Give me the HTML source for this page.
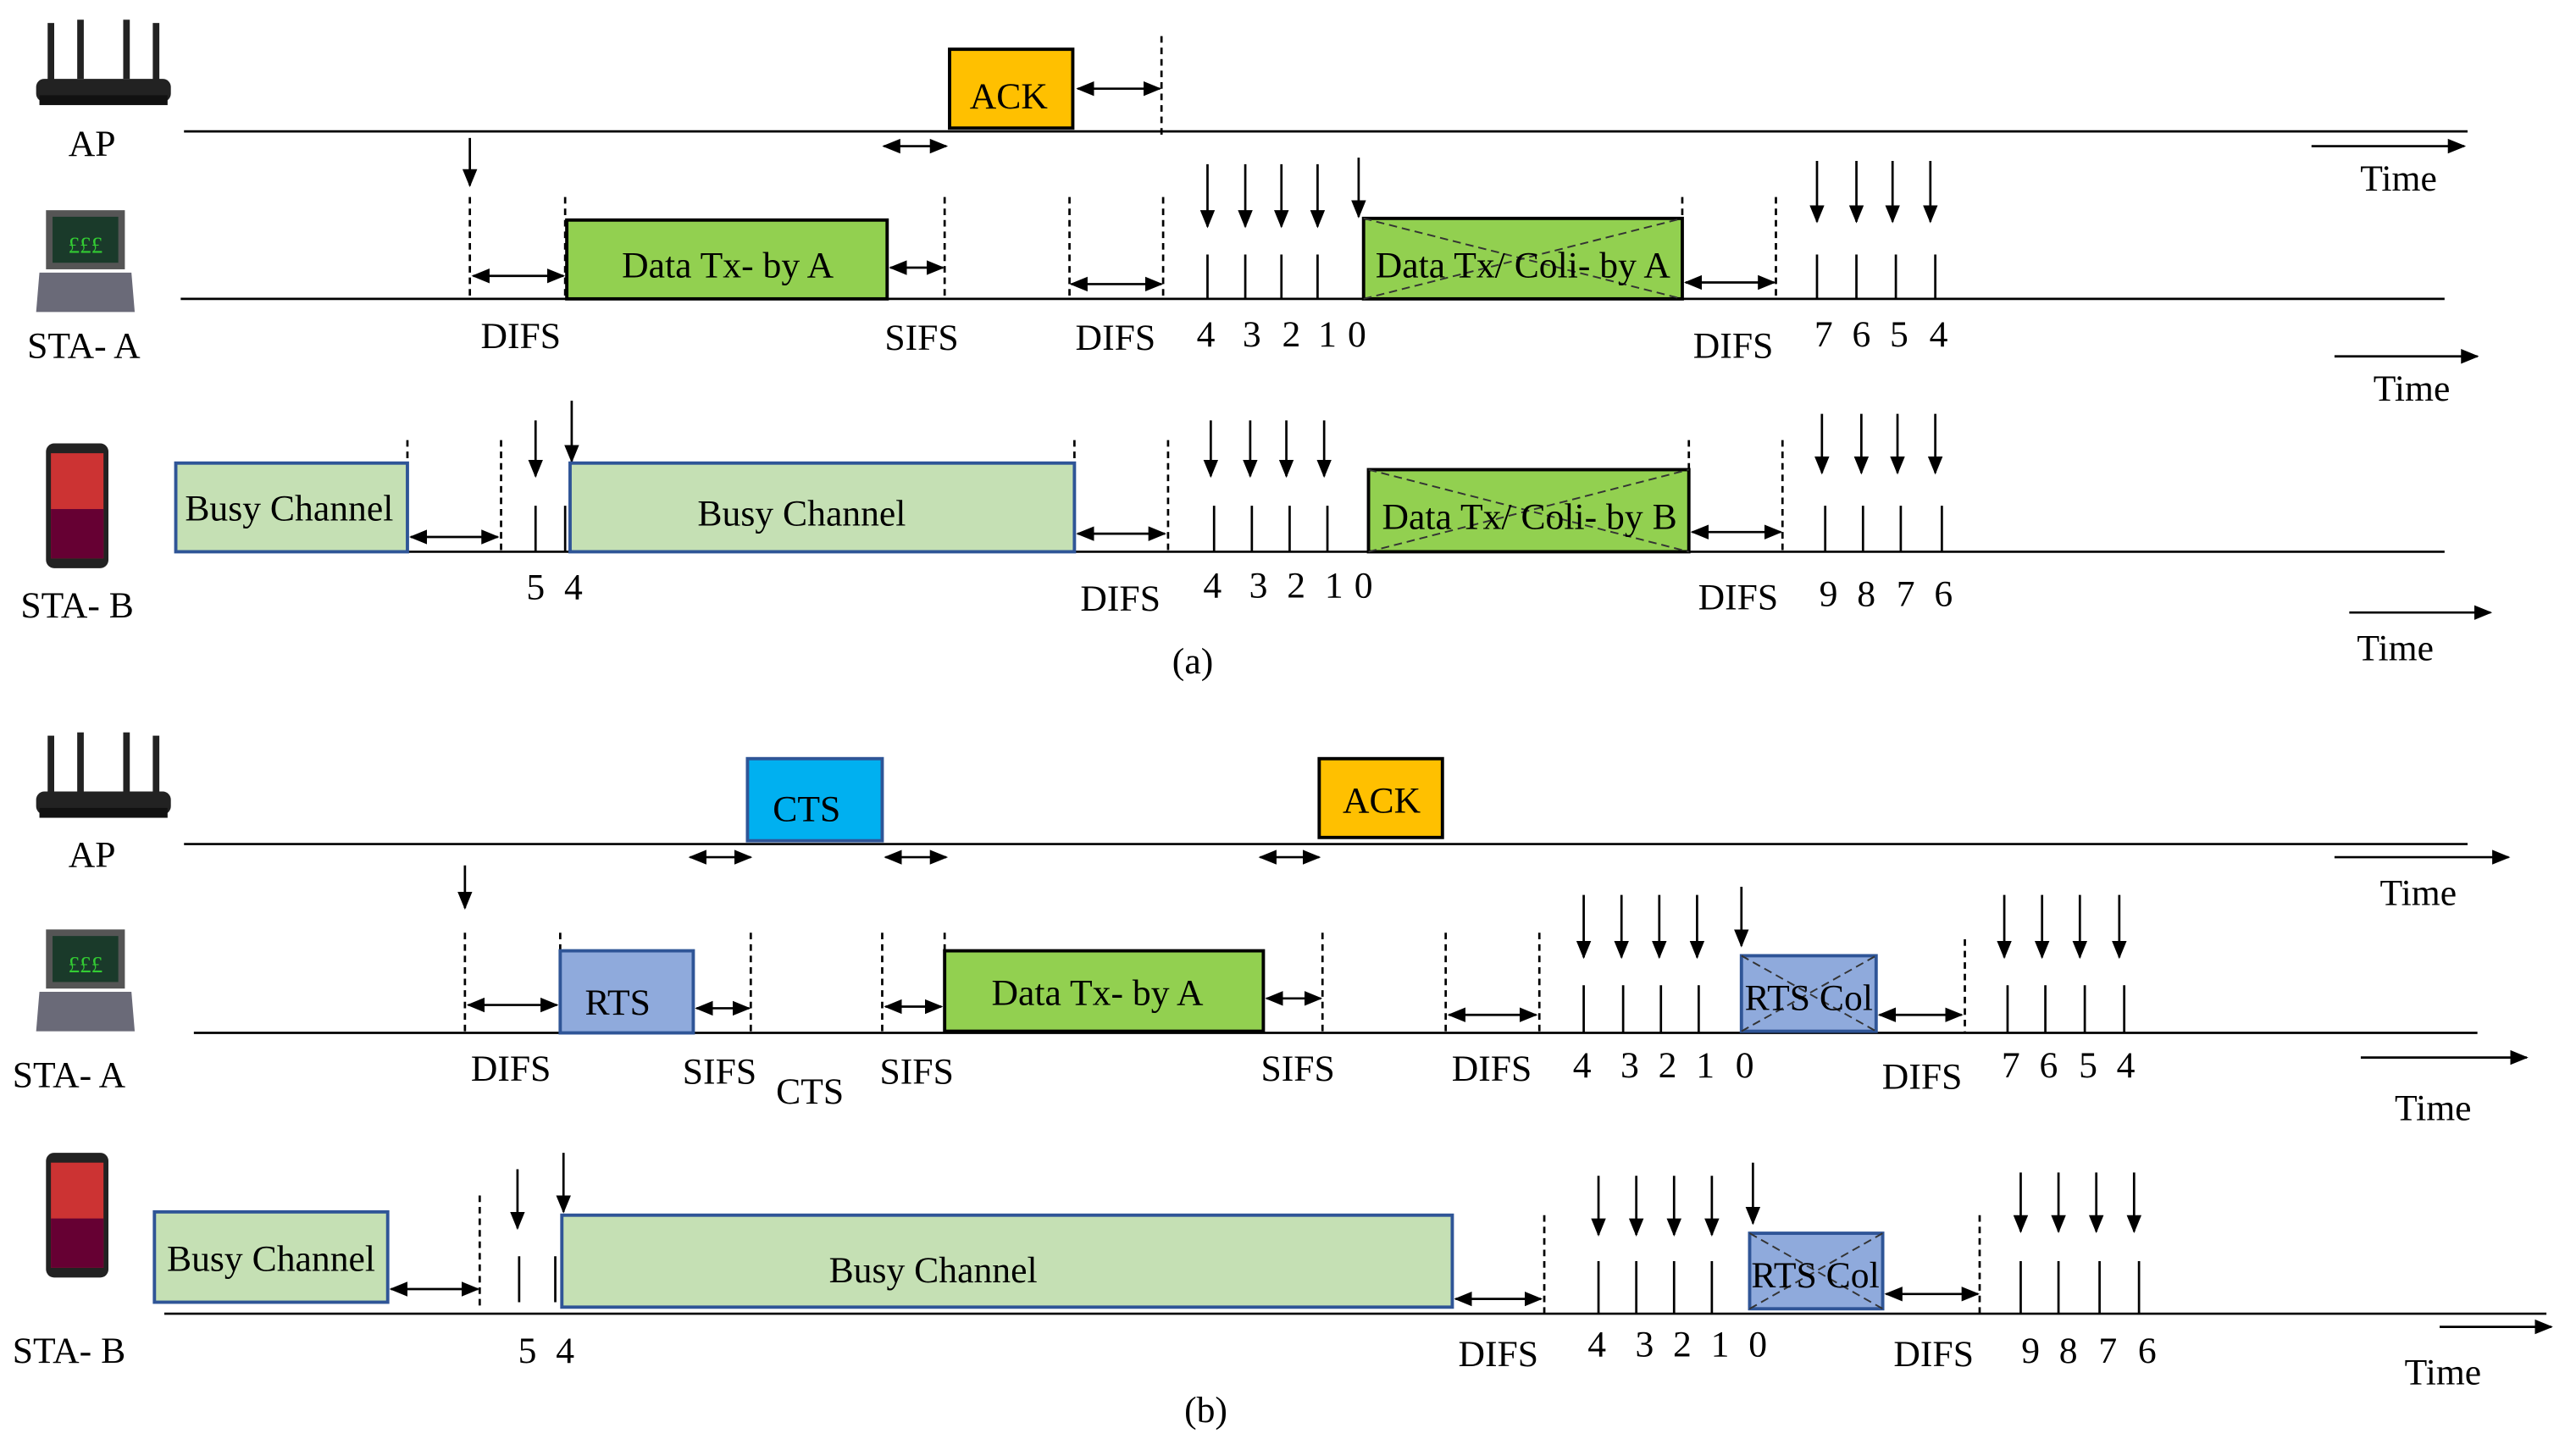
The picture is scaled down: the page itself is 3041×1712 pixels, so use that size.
<!DOCTYPE html>
<html><head><meta charset="utf-8"><style>html,body{margin:0;padding:0;background:#fff}svg{display:block}text{font-family:"Liberation Serif",serif;font-size:22.5px;fill:#000}</style></head><body>
<svg width="3041" height="1712" viewBox="0 0 1568 883" preserveAspectRatio="none" xmlns="http://www.w3.org/2000/svg">
<defs>
<marker id="a" markerWidth="11" markerHeight="10" refX="10" refY="5" orient="auto-start-reverse" markerUnits="userSpaceOnUse"><path d="M0,0.5 L11,5 L0,9.5 z" fill="#000"/></marker>
<g id="router"><rect x="22" y="48" width="82" height="14" rx="5" fill="#222"/><rect x="24" y="58" width="78" height="6" fill="#111"/><rect x="29" y="14" width="4" height="36" fill="#222"/><rect x="47" y="12" width="4" height="36" fill="#222"/><rect x="75" y="12" width="4" height="36" fill="#222"/><rect x="93" y="14" width="4" height="36" fill="#222"/></g>
<g id="laptop"><rect x="28" y="128" width="48" height="36" fill="#555"/><rect x="32" y="132" width="40" height="28" fill="#1a3a2a"/><text x="52" y="154" text-anchor="middle" style="font-size:14px;fill:#3c3">£££</text><path d="M24,166 L80,166 L82,190 L22,190 z" fill="#6a6a78"/></g>
<g id="phone"><rect x="28" y="270" width="38" height="76" rx="5" fill="#222"/><rect x="31" y="276" width="32" height="64" fill="#c33"/><rect x="31" y="310" width="32" height="30" fill="#603"/></g>
</defs>
<g stroke="#000" stroke-width="1.4" fill="none">
<!-- (a) -->
<line x1="112" y1="80" x2="1502" y2="80"/>
<line x1="110" y1="182" x2="1488" y2="182"/>
<line x1="110" y1="336" x2="1488" y2="336"/>
<g stroke-dasharray="4,3"><line x1="707" y1="22" x2="707" y2="82"/><line x1="286" y1="120" x2="286" y2="182"/><line x1="344" y1="120" x2="344" y2="182"/><line x1="575" y1="120" x2="575" y2="182"/><line x1="651" y1="120" x2="651" y2="182"/><line x1="708" y1="120" x2="708" y2="182"/><line x1="1024" y1="120" x2="1024" y2="182"/><line x1="1081" y1="120" x2="1081" y2="182"/>
<line x1="248" y1="268" x2="248" y2="336"/><line x1="305" y1="268" x2="305" y2="336"/><line x1="654" y1="268" x2="654" y2="336"/><line x1="711" y1="268" x2="711" y2="336"/><line x1="1028" y1="268" x2="1028" y2="336"/><line x1="1085" y1="268" x2="1085" y2="336"/></g>
<g marker-start="url(#a)" marker-end="url(#a)"><line x1="656" y1="54" x2="706" y2="54"/><line x1="538" y1="89" x2="576" y2="89"/><line x1="288" y1="168" x2="343" y2="168"/><line x1="542" y1="163" x2="574" y2="163"/><line x1="652" y1="173" x2="707" y2="173"/><line x1="1026" y1="172" x2="1080" y2="172"/><line x1="250" y1="327" x2="303" y2="327"/><line x1="656" y1="325" x2="709" y2="325"/><line x1="1030" y1="324" x2="1084" y2="324"/></g>
<g marker-end="url(#a)"><line x1="1407" y1="89" x2="1500" y2="89"/><line x1="1421" y1="217" x2="1508" y2="217"/><line x1="1430" y1="373" x2="1516" y2="373"/>
<line x1="286" y1="84" x2="286" y2="113"/><line x1="735" y1="100" x2="735" y2="138"/><line x1="758" y1="100" x2="758" y2="138"/><line x1="780" y1="100" x2="780" y2="138"/><line x1="802" y1="100" x2="802" y2="138"/><line x1="827" y1="96" x2="827" y2="132"/><line x1="1106" y1="98" x2="1106" y2="135"/><line x1="1130" y1="98" x2="1130" y2="135"/><line x1="1152" y1="98" x2="1152" y2="135"/><line x1="1175" y1="98" x2="1175" y2="135"/>
<line x1="326" y1="256" x2="326" y2="290"/><line x1="348" y1="244" x2="348" y2="281"/><line x1="737" y1="256" x2="737" y2="290"/><line x1="761" y1="256" x2="761" y2="290"/><line x1="783" y1="256" x2="783" y2="290"/><line x1="806" y1="256" x2="806" y2="290"/><line x1="1109" y1="252" x2="1109" y2="288"/><line x1="1133" y1="252" x2="1133" y2="288"/><line x1="1155" y1="252" x2="1155" y2="288"/><line x1="1178" y1="252" x2="1178" y2="288"/></g>
<path d="M735,155V182M758,155V182M780,155V182M802,155V182M1106,155V182M1130,155V182M1154,155V182M1178,155V182M326,308V336M344,308V336M739,308V336M762,308V336M785,308V336M808,308V336M1111,308V336M1134,308V336M1157,308V336M1182,308V336"/>
<!-- (b) -->
<line x1="112" y1="514" x2="1502" y2="514"/>
<line x1="118" y1="629" x2="1508" y2="629"/>
<line x1="100" y1="800" x2="1550" y2="800"/>
<g stroke-dasharray="4,3"><line x1="283" y1="568" x2="283" y2="629"/><line x1="341" y1="568" x2="341" y2="629"/><line x1="457" y1="568" x2="457" y2="629"/><line x1="537" y1="568" x2="537" y2="629"/><line x1="575" y1="568" x2="575" y2="629"/><line x1="805" y1="568" x2="805" y2="629"/><line x1="880" y1="568" x2="880" y2="629"/><line x1="937" y1="568" x2="937" y2="629"/><line x1="1196" y1="572" x2="1196" y2="629"/>
<line x1="292" y1="728" x2="292" y2="796"/><line x1="940" y1="740" x2="940" y2="800"/><line x1="1205" y1="740" x2="1205" y2="800"/></g>
<g marker-start="url(#a)" marker-end="url(#a)"><line x1="420" y1="522" x2="457" y2="522"/><line x1="539" y1="522" x2="576" y2="522"/><line x1="767" y1="522" x2="803" y2="522"/><line x1="285" y1="612" x2="339" y2="612"/><line x1="424" y1="614" x2="456" y2="614"/><line x1="539" y1="613" x2="573" y2="613"/><line x1="771" y1="608" x2="804" y2="608"/><line x1="882" y1="618" x2="935" y2="618"/><line x1="1144" y1="618" x2="1194" y2="618"/><line x1="238" y1="785" x2="291" y2="785"/><line x1="886" y1="791" x2="938" y2="791"/><line x1="1148" y1="788" x2="1204" y2="788"/></g>
<g marker-end="url(#a)"><line x1="1421" y1="522" x2="1527" y2="522"/><line x1="1437" y1="644" x2="1538" y2="644"/><line x1="1485" y1="808" x2="1553" y2="808"/>
<line x1="283" y1="527" x2="283" y2="553"/><line x1="964" y1="545" x2="964" y2="583"/><line x1="987" y1="545" x2="987" y2="583"/><line x1="1010" y1="545" x2="1010" y2="583"/><line x1="1033" y1="545" x2="1033" y2="583"/><line x1="1060" y1="540" x2="1060" y2="576"/><line x1="1220" y1="545" x2="1220" y2="583"/><line x1="1243" y1="545" x2="1243" y2="583"/><line x1="1266" y1="545" x2="1266" y2="583"/><line x1="1290" y1="545" x2="1290" y2="583"/>
<line x1="315" y1="712" x2="315" y2="748"/><line x1="343" y1="702" x2="343" y2="738"/><line x1="973" y1="716" x2="973" y2="752"/><line x1="996" y1="716" x2="996" y2="752"/><line x1="1019" y1="716" x2="1019" y2="752"/><line x1="1042" y1="716" x2="1042" y2="752"/><line x1="1067" y1="708" x2="1067" y2="745"/><line x1="1230" y1="714" x2="1230" y2="750"/><line x1="1253" y1="714" x2="1253" y2="750"/><line x1="1276" y1="714" x2="1276" y2="750"/><line x1="1299" y1="714" x2="1299" y2="750"/></g>
<path d="M964,600V629M988,600V629M1011,600V629M1034,600V629M1222,600V629M1245,600V629M1269,600V629M1293,600V629M316,765V793M338,765V793M973,768V800M996,768V800M1019,768V800M1042,768V800M1230,768V800M1253,768V800M1278,768V800M1302,768V800"/>
</g>
<!-- boxes -->
<g stroke-width="2">
<rect x="578" y="30" width="75" height="48" fill="#FFC000" stroke="#000"/>
<rect x="345" y="134" width="195" height="48" fill="#92D050" stroke="#000"/>
<rect x="830" y="133" width="194" height="49" fill="#92D050" stroke="#000"/>
<rect x="107" y="282" width="141" height="54" fill="#C5E0B4" stroke="#2F5597"/>
<rect x="347" y="282" width="307" height="54" fill="#C5E0B4" stroke="#2F5597"/>
<rect x="833" y="286" width="195" height="50" fill="#92D050" stroke="#000"/>
<rect x="455" y="462" width="82" height="50" fill="#00B0F0" stroke="#2F5597"/>
<rect x="803" y="462" width="75" height="48" fill="#FFC000" stroke="#000"/>
<rect x="341" y="579" width="81" height="50" fill="#8FAADC" stroke="#2F5597"/>
<rect x="575" y="579" width="194" height="49" fill="#92D050" stroke="#000"/>
<rect x="1060" y="582" width="82" height="46" fill="#8FAADC" stroke="#2F5597"/>
<rect x="94" y="738" width="142" height="55" fill="#C5E0B4" stroke="#2F5597"/>
<rect x="342" y="740" width="542" height="56" fill="#C5E0B4" stroke="#2F5597"/>
<rect x="1065" y="751" width="81" height="46" fill="#8FAADC" stroke="#2F5597"/>
</g>
<g stroke="#333" stroke-width="1" stroke-dasharray="5,3"><path d="M830,133L1024,182M830,182L1024,133M833,286L1028,336M833,336L1028,286M1060,582L1142,628M1060,628L1142,582M1065,751L1146,797M1065,797L1146,751"/></g>
<use href="#router"/><use href="#laptop"/><use href="#phone"/>
<use href="#router" y="434"/><use href="#laptop" y="438"/><use href="#phone" y="432"/>
<g text-anchor="middle">
<text x="614" y="66">ACK</text><text x="443" y="169">Data  Tx- by A</text><text x="927" y="169">Data  Tx/ Coli- by A</text>
<text x="176" y="317">Busy Channel</text><text x="488" y="320">Busy Channel</text><text x="931" y="322">Data  Tx/ Coli- by B</text>
<text x="56" y="95">AP</text><text x="51" y="218">STA- A</text><text x="47" y="376">STA- B</text>
<text x="1460" y="116">Time</text><text x="1468" y="244">Time</text><text x="1458" y="402">Time</text>
<text x="317" y="212">DIFS</text><text x="561" y="213">SIFS</text><text x="679" y="213">DIFS</text><text x="1055" y="218">DIFS</text><text x="682" y="372">DIFS</text><text x="1058" y="371">DIFS</text>
<text x="734" y="211">4</text><text x="762" y="211">3</text><text x="786" y="211">2</text><text x="808" y="211">1</text><text x="826" y="211">0</text>
<text x="1110" y="211">7</text><text x="1133" y="211">6</text><text x="1156" y="211">5</text><text x="1180" y="211">4</text>
<text x="326" y="365">5</text><text x="349" y="365">4</text>
<text x="738" y="364">4</text><text x="766" y="364">3</text><text x="789" y="364">2</text><text x="812" y="364">1</text><text x="830" y="364">0</text>
<text x="1113" y="369">9</text><text x="1136" y="369">8</text><text x="1160" y="369">7</text><text x="1183" y="369">6</text>
<text x="726" y="410">(a)</text>
<text x="491" y="500">CTS</text><text x="841" y="495">ACK</text><text x="376" y="618">RTS</text><text x="668" y="612">Data  Tx- by A</text><text x="1101" y="615">RTS Col</text>
<text x="165" y="774">Busy Channel</text><text x="568" y="781">Busy Channel</text><text x="1105" y="784">RTS Col</text>
<text x="56" y="528">AP</text><text x="42" y="662">STA- A</text><text x="42" y="830">STA- B</text>
<text x="1472" y="551">Time</text><text x="1481" y="682">Time</text><text x="1487" y="843">Time</text>
<text x="311" y="658">DIFS</text><text x="438" y="660">SIFS</text><text x="493" y="672">CTS</text><text x="558" y="660">SIFS</text><text x="790" y="658">SIFS</text><text x="908" y="658">DIFS</text><text x="1170" y="663">DIFS</text><text x="912" y="832">DIFS</text><text x="1177" y="832">DIFS</text>
<text x="963" y="656">4</text><text x="992" y="656">3</text><text x="1015" y="656">2</text><text x="1038" y="656">1</text><text x="1062" y="656">0</text>
<text x="1224" y="656">7</text><text x="1247" y="656">6</text><text x="1271" y="656">5</text><text x="1294" y="656">4</text>
<text x="321" y="830">5</text><text x="344" y="830">4</text>
<text x="972" y="826">4</text><text x="1001" y="826">3</text><text x="1024" y="826">2</text><text x="1047" y="826">1</text><text x="1070" y="826">0</text>
<text x="1236" y="830">9</text><text x="1259" y="830">8</text><text x="1283" y="830">7</text><text x="1307" y="830">6</text>
<text x="734" y="866">(b)</text>
</g>
</svg>
</body></html>
